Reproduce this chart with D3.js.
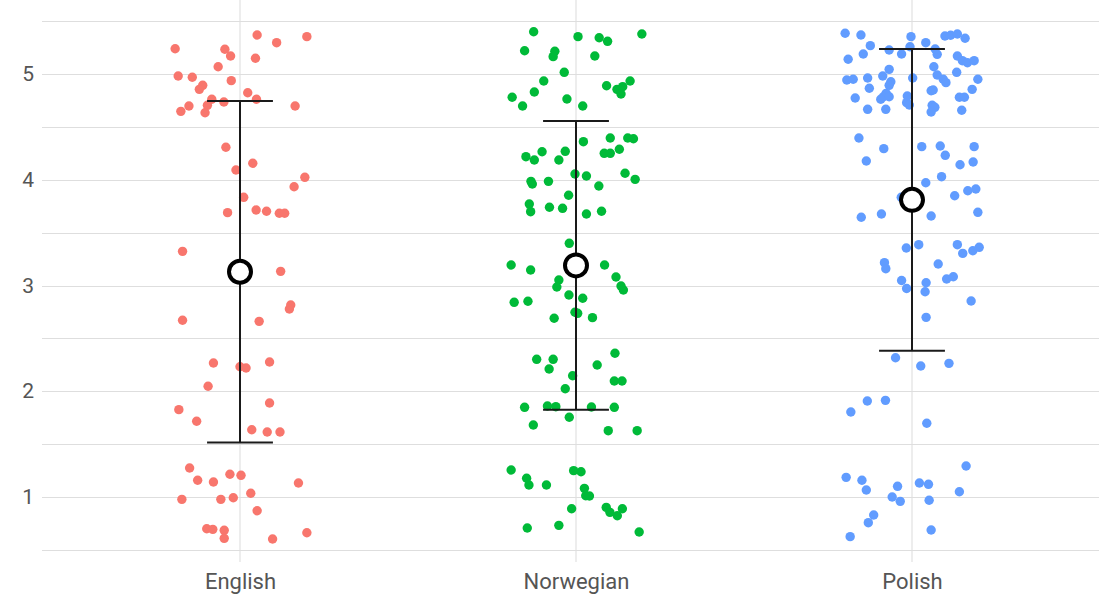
<!DOCTYPE html>
<html>
<head>
<meta charset="utf-8">
<script src="https://cdn.jsdelivr.net/npm/d3@7"></script>
<style>
  html, body { margin: 0; padding: 0; background: #ffffff; }
  svg { display: block; }
</style>
</head>
<body>
<svg id="chart" width="1099" height="598"></svg>
<script>
// ---- data ----
const categories = ["English", "Norwegian", "Polish"];
const colors = ["#F8766D", "#00BA38", "#619CFF"];
const yTicks = [1, 2, 3, 4, 5];
const yGrid = [0.5, 1, 1.5, 2, 2.5, 3, 3.5, 4, 4.5, 5, 5.5];

// summary: mean and SD per group
const means = [3.13, 3.19, 3.81];
const sds = [1.615, 1.365, 1.427];

// jittered observations: [jitter (category units), value]
const englishPts = [
  [0.051,5.369],[0.199,5.353],[0.109,5.296],[-0.193,5.239],[-0.045,5.234],[-0.028,5.170],
  [0.046,5.149],[-0.065,5.069],[-0.184,4.981],[-0.142,4.969],[-0.026,4.937],[-0.111,4.893],
  [-0.121,4.855],[0.023,4.823],[-0.084,4.761],[0.049,4.761],[-0.048,4.735],[-0.097,4.704],
  [-0.152,4.697],[0.164,4.697],[-0.176,4.647],[-0.104,4.634],[-0.042,4.307],[0.038,4.156],
  [-0.012,4.092],[0.193,4.023],[0.161,3.934],[0.011,3.834],[-0.037,3.689],[0.048,3.714],
  [0.079,3.702],[0.117,3.683],[0.133,3.683],[-0.171,3.323],[0.121,3.134],
  [0.151,2.816],[0.147,2.778],[-0.171,2.671],[0.057,2.661],[-0.079,2.267],[0.000,2.232],
  [0.018,2.220],[0.088,2.277],[-0.095,2.047],[-0.182,1.826],[0.088,1.889],[-0.129,1.716],
  [0.035,1.636],[0.081,1.615],[0.119,1.615],[-0.150,1.274],[-0.126,1.158],[-0.079,1.142],
  [-0.030,1.215],[0.003,1.205],[0.174,1.132],[-0.173,0.978],[-0.057,0.978],[-0.020,0.993],
  [0.032,1.035],[0.051,0.870],[-0.099,0.700],[-0.081,0.694],[-0.047,0.685],[-0.047,0.609],
  [0.097,0.603],[0.199,0.662]
];
const norwegianPts = [
  [-0.126,5.400],[0.196,5.378],[0.006,5.353],[0.069,5.343],[0.094,5.309],[-0.153,5.220],
  [-0.063,5.215],[-0.068,5.164],[0.056,5.170],[-0.035,5.016],[-0.096,4.934],[0.161,4.934],
  [0.091,4.889],[-0.124,4.830],[0.122,4.855],[0.139,4.880],[0.134,4.811],[-0.190,4.780],
  [-0.027,4.764],[-0.159,4.697],[0.020,4.697],[0.022,4.360],[0.102,4.395],[0.154,4.395],
  [0.171,4.388],[-0.101,4.265],[-0.032,4.269],[-0.149,4.218],[-0.124,4.187],[-0.051,4.187],
  [0.084,4.250],[0.102,4.250],[0.129,4.288],[-0.003,4.054],[0.031,4.035],[0.146,4.061],
  [0.176,4.004],[-0.134,3.985],[-0.130,3.960],[-0.082,3.985],[0.068,3.941],[-0.022,3.853],
  [-0.139,3.771],[-0.135,3.698],[-0.079,3.740],[-0.040,3.730],[0.031,3.676],[0.076,3.702],
  [-0.020,3.399],[-0.193,3.194],[-0.135,3.147],[0.085,3.194],[0.119,3.080],[0.134,2.995],
  [0.141,2.957],[-0.051,3.052],[-0.057,2.986],[-0.021,2.910],[0.020,2.879],[-0.184,2.841],
  [-0.143,2.851],[-0.003,2.747],[0.005,2.737],[-0.065,2.690],[0.049,2.696],[-0.117,2.302],
  [-0.068,2.302],[-0.080,2.210],[0.116,2.359],[0.063,2.248],[-0.010,2.147],[0.114,2.097],
  [0.137,2.097],[-0.032,2.024],[-0.153,1.848],[-0.085,1.861],[-0.060,1.854],[0.046,1.851],
  [0.114,1.848],[-0.020,1.754],[-0.127,1.681],[0.096,1.627],[0.182,1.627],[-0.193,1.255],
  [-0.007,1.249],[0.015,1.239],[-0.147,1.177],[-0.140,1.113],[-0.088,1.113],[0.025,1.082],
  [0.029,1.012],[0.040,1.009],[-0.013,0.889],[0.090,0.902],[0.101,0.855],[0.123,0.823],
  [0.138,0.889],[-0.145,0.707],[-0.051,0.732],[0.188,0.669]
];
const polishPts = [
  [-0.199,5.385],[-0.152,5.369],[-0.003,5.353],[0.098,5.359],[0.115,5.366],[0.135,5.378],
  [0.158,5.338],[-0.124,5.268],[0.041,5.296],[-0.006,5.258],[-0.068,5.227],[-0.031,5.189],
  [-0.145,5.189],[0.075,5.186],[0.069,5.236],[-0.190,5.139],[0.135,5.170],[0.150,5.126],
  [0.165,5.107],[0.185,5.126],[0.065,5.069],[-0.068,5.044],[0.133,5.016],[-0.194,4.943],
  [-0.175,4.950],[-0.132,4.962],[-0.087,4.981],[0.002,4.962],[0.075,4.991],[0.093,4.950],
  [0.101,4.918],[0.196,4.950],[-0.063,4.927],[-0.068,4.893],[-0.127,4.865],[0.057,4.842],
  [0.063,4.849],[0.179,4.855],[-0.077,4.817],[-0.085,4.785],[-0.068,4.785],[-0.093,4.761],
  [-0.014,4.792],[-0.169,4.773],[0.141,4.780],[0.156,4.780],[-0.016,4.729],[-0.008,4.707],
  [0.060,4.704],[0.068,4.685],[0.057,4.641],[-0.132,4.666],[-0.078,4.666],[0.148,4.657],
  [-0.158,4.395],[-0.084,4.294],[0.029,4.313],[0.084,4.319],[0.185,4.313],[0.099,4.231],
  [-0.136,4.177],[0.143,4.142],[0.182,4.168],[0.088,4.029],[0.041,3.972],[0.166,3.896],
  [0.190,3.913],[0.127,3.849],[-0.032,3.834],[-0.151,3.645],[-0.091,3.676],[0.057,3.657],
  [0.196,3.692],[-0.017,3.355],[0.020,3.386],[0.135,3.386],[0.151,3.304],[0.181,3.329],
  [0.200,3.361],[-0.082,3.216],[-0.078,3.159],[0.078,3.203],[0.103,3.061],[0.123,3.083],
  [-0.031,3.047],[-0.016,2.972],[0.042,3.026],[0.039,2.941],[0.176,2.853],[0.042,2.699],
  [-0.049,2.317],[0.026,2.239],[0.110,2.264],[-0.133,1.908],[-0.079,1.914],[-0.182,1.804],
  [0.044,1.697],[0.161,1.293],[-0.196,1.186],[-0.149,1.158],[-0.136,1.066],[-0.043,1.101],
  [0.022,1.132],[0.049,1.120],[0.141,1.050],[-0.059,1.000],[-0.035,0.959],[0.051,0.969],
  [-0.114,0.830],[-0.130,0.757],[0.057,0.688],[-0.184,0.625]
];
const groupPoints = [englishPts, norwegianPts, polishPts];

// ---- layout ----
const panel = { left: 42, right: 1099, top: 0, bottom: 562 };
const svg = d3.select("#chart");

const x = d3.scalePoint().domain(categories).range([240, 912]);
const step = x.step();
const y = d3.scaleLinear().domain([1, 5]).range([497, 74]);

const gridColor = "#dedede";
const font = "Roboto, 'Open Sans', sans-serif";

// horizontal grid
svg.append("g").selectAll("line").data(yGrid).join("line")
  .attr("x1", panel.left).attr("x2", panel.right)
  .attr("y1", d => Math.round(y(d)) + 0.5).attr("y2", d => Math.round(y(d)) + 0.5)
  .attr("stroke", gridColor).attr("stroke-width", 1.1);

// vertical grid
svg.append("g").selectAll("line").data(categories).join("line")
  .attr("x1", d => x(d)).attr("x2", d => x(d))
  .attr("y1", panel.top).attr("y2", panel.bottom)
  .attr("stroke", gridColor).attr("stroke-width", 1.1);

// y axis (no line, no ticks)
const yAxis = d3.axisLeft(y).tickValues(yTicks).tickSize(0).tickPadding(0).tickFormat(d3.format("d"));
const yg = svg.append("g").attr("transform", `translate(34,0)`).call(yAxis);
yg.select(".domain").remove();
yg.selectAll("text").attr("font-family", font).attr("font-size", 21).attr("fill", "#555555");

// x axis
const xAxis = d3.axisBottom(x).tickSize(0).tickPadding(0);
const xg = svg.append("g").attr("transform", `translate(0,573)`).call(xAxis);
xg.select(".domain").remove();
xg.selectAll("text").attr("font-family", font).attr("font-size", 22).attr("fill", "#555555");

// points
categories.forEach((cat, i) => {
  svg.append("g").selectAll("circle").data(groupPoints[i]).join("circle")
    .attr("cx", d => x(cat) + d[0] * step)
    .attr("cy", d => y(d[1]))
    .attr("r", 4.7)
    .attr("fill", colors[i]);
});

// error bars (mean ± SD)
const capHalf = 0.098 * step;
const eb = svg.append("g");
categories.forEach((cat, i) => {
  const cx = x(cat);
  const lo = y(means[i] - sds[i]), hi = y(means[i] + sds[i]);
  eb.append("line").attr("x1", cx).attr("x2", cx).attr("y1", hi).attr("y2", lo)
    .attr("stroke", "#1a1a1a").attr("stroke-width", 2);
  [hi, lo].forEach(v => {
    eb.append("line").attr("x1", cx - capHalf).attr("x2", cx + capHalf)
      .attr("y1", v).attr("y2", v).attr("stroke", "#1a1a1a").attr("stroke-width", 2);
  });
});

// means
svg.append("g").selectAll("circle").data(categories).join("circle")
  .attr("cx", d => x(d))
  .attr("cy", (d, i) => y(means[i]))
  .attr("r", 11)
  .attr("fill", "#ffffff")
  .attr("stroke", "#000000")
  .attr("stroke-width", 4);
</script>
</body>
</html>
